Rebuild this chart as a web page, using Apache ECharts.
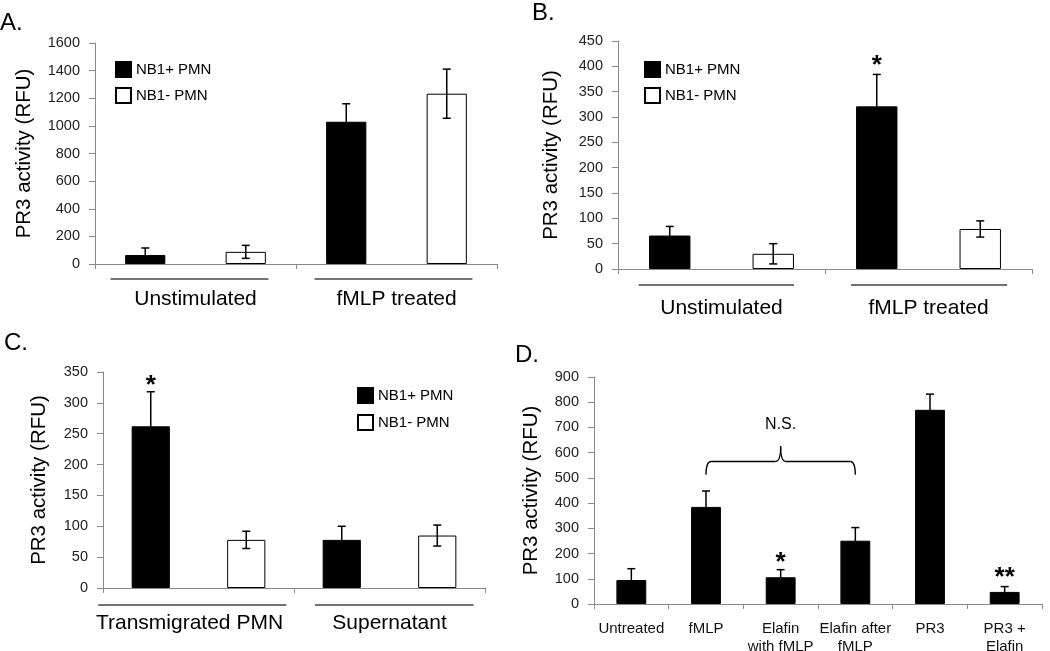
<!DOCTYPE html>
<html>
<head>
<meta charset="utf-8">
<script src="https://cdn.jsdelivr.net/npm/echarts@6/dist/echarts.min.js"></script>
<style>
html,body{margin:0;padding:0;background:#fff;}
#chart{width:1050px;height:651px;}
</style>
</head>
<body>
<div id="chart"></div>
<script>
// ---------- DATA ----------
const seriesNames = ['NB1+ PMN', 'NB1- PMN'];

// Panel A
const catsA = ['Unstimulated NB1+', 'Unstimulated NB1-', 'fMLP NB1+', 'fMLP NB1-'];
const groupsA = ['Unstimulated', 'fMLP treated'];
const posA = [65, '-', 1030, '-'];
const negA = ['-', 88, '-', 1233];
const errA = [51, 47, 130, 178];
const sigA = [];

// Panel B
const catsB = ['Unstimulated NB1+', 'Unstimulated NB1-', 'fMLP NB1+', 'fMLP NB1-'];
const groupsB = ['Unstimulated', 'fMLP treated'];
const posB = [66, '-', 321, '-'];
const negB = ['-', 30, '-', 79];
const errB = [18, 20, 63, 16];
const sigB = [[2, 414, '*']];

// Panel C
const catsC = ['Transmigrated NB1+', 'Transmigrated NB1-', 'Supernatant NB1+', 'Supernatant NB1-'];
const groupsC = ['Transmigrated PMN', 'Supernatant'];
const posC = [262, '-', 78, '-'];
const negC = ['-', 78, '-', 85];
const errC = [56, 14, 22, 17];
const sigC = [[0, 338, '*']];

// Panel D
const catsD = ['Untreated', 'fMLP', 'Elafin\nwith fMLP', 'Elafin after\nfMLP', 'PR3', 'PR3 +\nElafin'];
const valD = [95, 385, 106, 251, 770, 48];
const errD = [45, 63, 30, 52, 62, 21];
const sigD = [[2, 188, '*'], [5, 128, '**']];
// brace: from category 1 to category 3, end / bar / peak levels, label level
const braceD = [[1, 3, 512, 565, 625, 711]];
const braceLabel = 'N.S.';

// y axes
const yMax = [1600, 450, 350, 900];
const yStep = [200, 50, 50, 100];

// ---------- STYLE / LAYOUT ----------
const FONT = "'Liberation Sans', Arial, sans-serif";
const AXIS_COLOR = '#8a8a8a';
const grids = [
  {left: 95, top: 43, width: 402, height: 221, outerBoundsMode: 'none', containLabel: false},
  {left: 618, top: 41, width: 414, height: 228, outerBoundsMode: 'none', containLabel: false},
  {left: 103, top: 372, width: 382, height: 216, outerBoundsMode: 'none', containLabel: false},
  {left: 594, top: 377, width: 448, height: 227, outerBoundsMode: 'none', containLabel: false}
];
const nameGaps = [60, 56, 53, 52];
const groupLayout = [
  {lineDy: 15, textDy: 35, spans: [[-0.845, 0.726], [-0.815, 0.755]], textDx: [0, 0]},
  {lineDy: 16, textDy: 39, spans: [[-0.80, 0.70], [-0.75, 0.76]], textDx: [0, 0]},
  {lineDy: 17, textDy: 35, spans: [[-1.05, 0.92], [-0.78, 0.88]], textDx: [-9, 0]}
];

function merged(p, n) { return p.map((v, i) => v !== '-' ? v : n[i]); }

function errRender(params, api) {
  const c = api.value(0), v = api.value(1), e = api.value(2);
  const t = api.coord([c, v + e]), b = api.coord([c, v - e]);
  const cap = 4;
  const st = {stroke: '#000', lineWidth: 1.5};
  return {type: 'group', children: [
    {type: 'line', shape: {x1: t[0], y1: t[1], x2: b[0], y2: b[1]}, style: st},
    {type: 'line', shape: {x1: t[0] - cap, y1: t[1], x2: t[0] + cap, y2: t[1]}, style: st},
    {type: 'line', shape: {x1: b[0] - cap, y1: b[1], x2: b[0] + cap, y2: b[1]}, style: st}
  ]};
}

function makeSigRender(list) {
  return function (params, api) {
    const p = api.coord([api.value(0), api.value(1)]);
    const fs = 26;
    return {type: 'text', style: {text: list[params.dataIndex][2], x: p[0], y: p[1] + fs * 0.25,
      fill: '#000', font: 'bold ' + fs + 'px ' + FONT, align: 'center', verticalAlign: 'middle'}};
  };
}

function makeGroupRender(groups, lay) {
  return function (params, api) {
    const g = params.dataIndex;
    const p0 = api.coord([api.value(0), 0]);
    const w = api.size([1, 0])[0];
    const cx = p0[0] + w / 2;
    const y0 = p0[1];
    const sp = lay.spans[g];
    return {type: 'group', children: [
      {type: 'line', shape: {x1: cx + sp[0] * w, y1: y0 + lay.lineDy, x2: cx + sp[1] * w, y2: y0 + lay.lineDy},
        style: {stroke: '#444', lineWidth: 1.5}},
      {type: 'text', style: {text: groups[g], x: cx + lay.textDx[g], y: y0 + lay.textDy, fill: '#000',
        font: '21px ' + FONT, align: 'center', verticalAlign: 'middle'}}
    ]};
  };
}

function braceRender(params, api) {
  const a = api.coord([api.value(0), api.value(2)]);
  const bar = api.coord([api.value(0), api.value(3)]);
  const c = api.coord([api.value(1), api.value(2)]);
  const peak = api.coord([api.value(0), api.value(4)]);
  const lab = api.coord([api.value(0), api.value(5)]);
  const x0 = a[0], x1 = c[0], xm = (x0 + x1) / 2;
  const yE = a[1], yB = bar[1], yP = peak[1];
  const r = 5;
  const st = {stroke: '#000', lineWidth: 1.3, fill: null};
  return {type: 'group', children: [
    {type: 'bezierCurve', shape: {x1: x0, y1: yE, cpx1: x0, cpy1: yB, x2: x0 + r, y2: yB}, style: st},
    {type: 'line', shape: {x1: x0 + r, y1: yB, x2: xm - r, y2: yB}, style: st},
    {type: 'bezierCurve', shape: {x1: xm - r, y1: yB, cpx1: xm, cpy1: yB, x2: xm, y2: yP}, style: st},
    {type: 'bezierCurve', shape: {x1: xm + r, y1: yB, cpx1: xm, cpy1: yB, x2: xm, y2: yP}, style: st},
    {type: 'line', shape: {x1: xm + r, y1: yB, x2: x1 - r, y2: yB}, style: st},
    {type: 'bezierCurve', shape: {x1: x1 - r, y1: yB, cpx1: x1, cpy1: yB, x2: x1, y2: yE}, style: st},
    {type: 'text', style: {text: braceLabel, x: xm, y: lab[1], fill: '#000', font: '16px ' + FONT,
      align: 'center', verticalAlign: 'middle'}}
  ]};
}

const panelCats = [catsA, catsB, catsC, catsD];
const xAxes = panelCats.map((cats, i) => ({
  type: 'category', gridIndex: i, data: cats,
  axisLine: {lineStyle: {color: AXIS_COLOR, width: 1}},
  axisTick: {show: true, length: 5, lineStyle: {color: AXIS_COLOR}},
  axisLabel: i === 3 ? {show: true, interval: 0, fontSize: 15, lineHeight: 18, color: '#111', fontFamily: FONT, margin: 16}
                     : {show: false}
}));
const yAxes = yMax.map((m, i) => ({
  type: 'value', gridIndex: i, min: 0, max: m, interval: yStep[i],
  name: 'PR3 activity (RFU)', nameLocation: 'middle', nameGap: nameGaps[i],
  nameTextStyle: {fontSize: 20.5, color: '#000', fontFamily: FONT},
  axisLine: {show: true, lineStyle: {color: AXIS_COLOR, width: 1}},
  axisTick: {show: true, length: 6, lineStyle: {color: AXIS_COLOR}},
  axisLabel: {fontSize: 14.5, color: '#222', fontFamily: FONT, margin: 15, formatter: v => String(v)},
  splitLine: {show: false}
}));

const blackStyle = {color: '#000', borderColor: '#000', borderWidth: 1};
const whiteStyle = {color: '#fff', borderColor: '#000', borderWidth: 1};

const series = [];
const pos = [posA, posB, posC], neg = [negA, negB, negC], errs = [errA, errB, errC];
const sigs = [sigA, sigB, sigC];
const groups = [groupsA, groupsB, groupsC];
for (let i = 0; i < 3; i++) {
  series.push({type: 'bar', name: seriesNames[0], xAxisIndex: i, yAxisIndex: i, data: pos[i],
    barWidth: '40%', barGap: '-100%', itemStyle: blackStyle, z: 2});
  series.push({type: 'bar', name: seriesNames[1], xAxisIndex: i, yAxisIndex: i, data: neg[i],
    barWidth: '40%', barGap: '-100%', itemStyle: whiteStyle, z: 2});
  const m = merged(pos[i], neg[i]);
  series.push({type: 'custom', name: 'err' + i, xAxisIndex: i, yAxisIndex: i, z: 5,
    data: m.map((v, k) => [k, v, errs[i][k]]), renderItem: errRender, silent: true});
  if (sigs[i].length) {
    series.push({type: 'custom', name: 'sig' + i, xAxisIndex: i, yAxisIndex: i, z: 5,
      data: sigs[i].map(s => [s[0], s[1]]), renderItem: makeSigRender(sigs[i]), silent: true});
  }
  series.push({type: 'custom', name: 'grp' + i, xAxisIndex: i, yAxisIndex: i, z: 5, clip: false,
    data: groups[i].map((g, k) => [k * 2, 0]), renderItem: makeGroupRender(groups[i], groupLayout[i]), silent: true});
}
series.push({type: 'bar', name: 'PR3 activity', xAxisIndex: 3, yAxisIndex: 3, data: valD,
  barWidth: '40%', itemStyle: blackStyle, z: 2});
series.push({type: 'custom', name: 'errD', xAxisIndex: 3, yAxisIndex: 3, z: 5,
  data: valD.map((v, k) => [k, v, errD[k]]), renderItem: errRender, silent: true});
series.push({type: 'custom', name: 'sigD', xAxisIndex: 3, yAxisIndex: 3, z: 5,
  data: sigD.map(s => [s[0], s[1]]), renderItem: makeSigRender(sigD), silent: true});
series.push({type: 'custom', name: 'brace', xAxisIndex: 3, yAxisIndex: 3, z: 5, clip: false,
  data: braceD, renderItem: braceRender, silent: true});

const legendBase = {orient: 'vertical', itemWidth: 15, itemHeight: 15, itemGap: 9, icon: 'rect',
  selectedMode: false, textStyle: {fontSize: 15, color: '#000', fontFamily: FONT}, data: seriesNames};

const option = {
  animation: false,
  backgroundColor: '#fff',
  textStyle: {fontFamily: FONT},
  grid: grids,
  xAxis: xAxes,
  yAxis: yAxes,
  legend: [
    Object.assign({}, legendBase, {left: 110, top: 56}),
    Object.assign({}, legendBase, {left: 639, top: 56}),
    Object.assign({}, legendBase, {left: 352, top: 382, itemGap: 10})
  ],
  graphic: [
    {type: 'text', left: 0, top: 11, style: {text: 'A.', font: '24px ' + FONT, fill: '#000'}},
    {type: 'text', left: 532, top: 1, style: {text: 'B.', font: '24px ' + FONT, fill: '#000'}},
    {type: 'text', left: 4, top: 331, style: {text: 'C.', font: '24px ' + FONT, fill: '#000'}},
    {type: 'text', left: 515, top: 343, style: {text: 'D.', font: '24px ' + FONT, fill: '#000'}}
  ],
  series: series
};

const chart = echarts.init(document.getElementById('chart'), null, {renderer: 'canvas'});
chart.setOption(option);
</script>
</body>
</html>
